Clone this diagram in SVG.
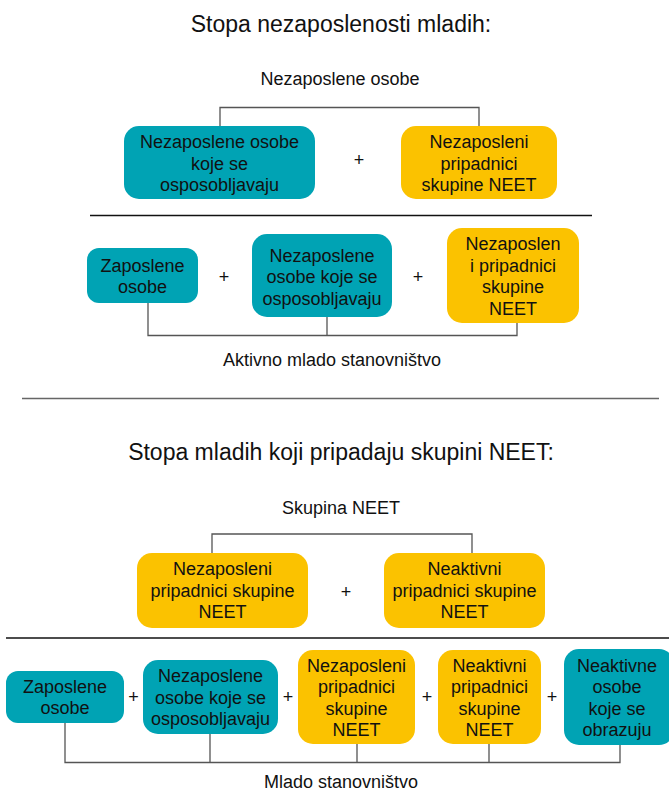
<svg xmlns="http://www.w3.org/2000/svg" width="669" height="792" viewBox="0 0 669 792">
<style>
text{font-family:"Liberation Sans",Arial,Helvetica,sans-serif;fill:#111;text-anchor:middle}
.t{font-size:23px}
.b{font-size:18px}
.teal{fill:#00A3B4}
.yel{fill:#FBC200}
.br{fill:none;stroke:#555;stroke-width:1.3}
.sep{stroke:#111;stroke-width:1.3}
</style>
<rect width="669" height="792" fill="#fff"/>
<text class="t" x="341" y="32">Stopa nezaposlenosti mladih:</text>
<text class="b" x="340" y="85">Nezaposlene osobe</text>
<text class="t" x="341" y="460">Stopa mladih koji pripadaju skupini NEET:</text>
<text class="b" x="341" y="514">Skupina NEET</text>
<text class="b" x="332" y="366">Aktivno mlado stanovništvo</text>
<text class="b" x="341" y="788">Mlado stanovništvo</text>

<g id="connectors">
<path class="br" d="M220,126V107.5H479V126"/>
<path class="br" d="M148,303V335.5H517V323M327,317V335.5"/>
<path class="br" d="M212,553V534H472V553"/>
<path class="br" d="M65,723V762.5H620V745M210,734V762.5M357,744V762.5M489,744V762.5"/>
<line class="sep" x1="90" y1="215.5" x2="592" y2="215.5"/>
<line x1="22" y1="398.5" x2="659" y2="398.5" stroke="#666" stroke-width="1.3"/>
<line class="sep" x1="6" y1="638" x2="669" y2="638"/>
</g>

<g id="plus">
<text class="b" x="359" y="166">+</text>
<text class="b" x="224" y="283">+</text>
<text class="b" x="418" y="283">+</text>
<text class="b" x="346" y="598">+</text>
<text class="b" x="133.5" y="703">+</text>
<text class="b" x="288" y="703">+</text>
<text class="b" x="427" y="703">+</text>
<text class="b" x="552" y="703">+</text>
</g>

<g id="n1">
<rect class="teal" x="124" y="126" width="191" height="73" rx="15"/>
<text class="b" x="219.5" y="148">Nezaposlene osobe</text>
<text class="b" x="219.5" y="169.5">koje se</text>
<text class="b" x="219.5" y="191">osposobljavaju</text>
</g>
<g id="n2">
<rect class="yel" x="401" y="126" width="156" height="73" rx="15"/>
<text class="b" x="479" y="148">Nezaposleni</text>
<text class="b" x="479" y="169.5">pripadnici</text>
<text class="b" x="479" y="191">skupine NEET</text>
</g>

<g id="n3">
<rect class="teal" x="87" y="248" width="111" height="55" rx="12"/>
<text class="b" x="142.5" y="271.5">Zaposlene</text>
<text class="b" x="142.5" y="292.5">osobe</text>
</g>
<g id="n4">
<rect class="teal" x="252" y="234" width="140" height="83" rx="15"/>
<text class="b" x="322" y="261.5">Nezaposlene</text>
<text class="b" x="322" y="283">osobe koje se</text>
<text class="b" x="322" y="304.5">osposobljavaju</text>
</g>
<g id="n5">
<rect class="yel" x="447" y="228" width="132" height="95" rx="15"/>
<text class="b" x="513" y="250">Nezaposlen</text>
<text class="b" x="513" y="271.5">i pripadnici</text>
<text class="b" x="513" y="293">skupine</text>
<text class="b" x="513" y="314.5">NEET</text>
</g>

<g id="n6">
<rect class="yel" x="137" y="553" width="171" height="75" rx="15"/>
<text class="b" x="222.5" y="575">Nezaposleni</text>
<text class="b" x="222.5" y="596.5">pripadnici skupine</text>
<text class="b" x="222.5" y="618">NEET</text>
</g>
<g id="n7">
<rect class="yel" x="384" y="553" width="161" height="75" rx="15"/>
<text class="b" x="464.5" y="575">Neaktivni</text>
<text class="b" x="464.5" y="596.5">pripadnici skupine</text>
<text class="b" x="464.5" y="618">NEET</text>
</g>

<g id="n8">
<rect class="teal" x="6" y="671" width="118" height="52" rx="12"/>
<text class="b" x="65" y="693">Zaposlene</text>
<text class="b" x="65" y="714">osobe</text>
</g>
<g id="n9">
<rect class="teal" x="143" y="660" width="135" height="74" rx="15"/>
<text class="b" x="210.5" y="682">Nezaposlene</text>
<text class="b" x="210.5" y="703.5">osobe koje se</text>
<text class="b" x="210.5" y="725">osposobljavaju</text>
</g>
<g id="n10">
<rect class="yel" x="298" y="650" width="117" height="94" rx="15"/>
<text class="b" x="356.5" y="671.5">Nezaposleni</text>
<text class="b" x="356.5" y="693">pripadnici</text>
<text class="b" x="356.5" y="714.5">skupine</text>
<text class="b" x="356.5" y="736">NEET</text>
</g>
<g id="n11">
<rect class="yel" x="438" y="650" width="103" height="94" rx="15"/>
<text class="b" x="489.5" y="671.5">Neaktivni</text>
<text class="b" x="489.5" y="693">pripadnici</text>
<text class="b" x="489.5" y="714.5">skupine</text>
<text class="b" x="489.5" y="736">NEET</text>
</g>
<g id="n12">
<rect class="teal" x="564" y="649" width="110" height="96" rx="15"/>
<text class="b" x="617" y="671.5">Neaktivne</text>
<text class="b" x="617" y="693">osobe</text>
<text class="b" x="617" y="714.5">koje se</text>
<text class="b" x="617" y="736">obrazuju</text>
</g>
</svg>
